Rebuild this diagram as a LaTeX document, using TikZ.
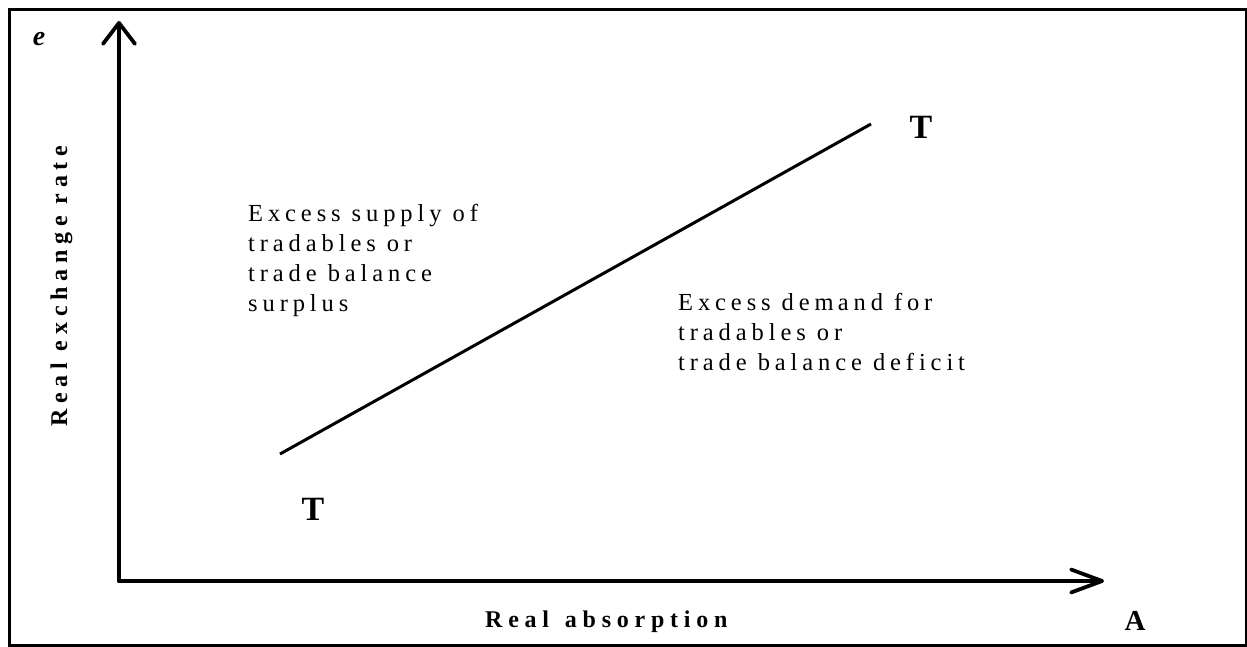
\documentclass[tikz,border=0pt]{standalone}
\usepackage{fontspec}
\setmainfont{Liberation Serif}
\newfontfamily\spacedserif[LetterSpace=20]{Liberation Serif}
\newfontfamily\spacedbold[LetterSpace=24]{Liberation Serif Bold}
\usetikzlibrary{arrows.meta}
\begin{document}
\begin{tikzpicture}[x=1pt,y=-1pt,
  frame/.style={line width=3pt},
  axis/.style={line width=3.8pt, line cap=round},
  schedule/.style={line width=3pt},
  region/.style={font=\spacedserif\fontsize{24.5}{30}\selectfont, align=left, inner sep=0pt, anchor=base west},
  axislabel/.style={font=\spacedbold\fontsize{24}{30}\selectfont, inner sep=0pt, anchor=base west},
  curvelabel/.style={font=\bfseries\fontsize{34}{36}\selectfont, inner sep=0pt, anchor=base}]
\useasboundingbox (0,0) rectangle (1247,646);
% outer frame
\draw[frame] (9,9) rectangle (1246,645);

% axes
\coordinate (O) at (119,581);
\coordinate (ytip) at (119,21);
\coordinate (xtip) at (1104,581);
\draw[axis, -{Straight Barb[length=21pt,width=32pt,round]}] (O) -- (ytip);
\draw[axis, -{Straight Barb[length=31pt,width=23pt,round]}] (O) -- (xtip);

% trade balance schedule TT
\coordinate (T1) at (280,454);
\coordinate (T2) at (871,124);
\draw[schedule] (T1) -- (T2);
\node[curvelabel] (tlow) at (313,520) {T};
\node[curvelabel] (thigh) at (921,138) {T};

% axis labels
\node[font=\bfseries\itshape\fontsize{28}{30}\selectfont, inner sep=0pt, anchor=base] (elabel) at (39,45) {e};
\node[font=\bfseries\fontsize{29}{30}\selectfont, inner sep=0pt, anchor=base] (alabel) at (1135,630) {A};
\node[axislabel] (xname) at (485,627) {Real\, absorption};
\node[axislabel, rotate=90] (yname) at (67,427) {Real exchange rate};

% regions (base anchor sits on the last line)
\node[region] (surplus) at (248,311) {Excess supply of\\tradables or\\trade balance\\surplus};
\node[region] (deficit) at (678,370) {Excess dem\,and for\\tradables or\\trade balance deficit};
\end{tikzpicture}
\end{document}
